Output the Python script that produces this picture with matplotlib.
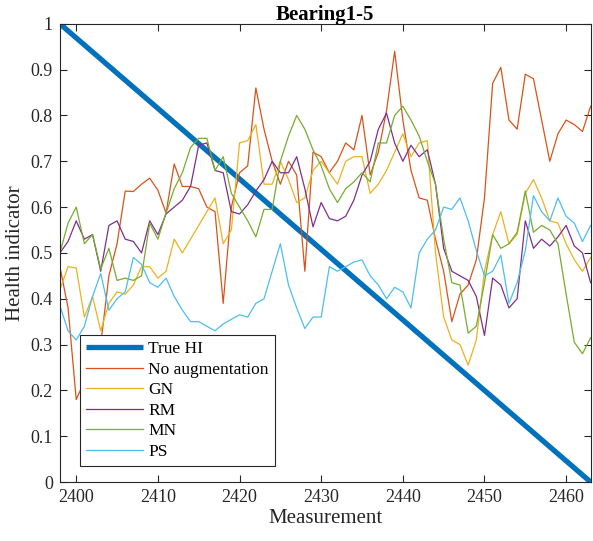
import numpy as np
import matplotlib
matplotlib.use("Agg")
import matplotlib.pyplot as plt

plt.rcParams['font.family'] = ['Liberation Serif', 'DejaVu Serif']
plt.rcParams['mathtext.fontset'] = 'stix'

## ---------------------------------- dados ----------------------------------
measurement = np.arange(2398, 2464)

true_hi_x = [2398, 2463]
true_hi = [1.0, 0.0]

no_aug = [0.47, 0.38, 0.18, 0.22, 0.27, 0.30, 0.45, 0.52, 0.635, 0.634,
          0.65, 0.663, 0.637, 0.587, 0.694, 0.645, 0.645, 0.64, 0.60, 0.59,
          0.39, 0.60, 0.675, 0.69, 0.86, 0.77, 0.70, 0.65, 0.70, 0.67,
          0.46, 0.72, 0.71, 0.675, 0.70, 0.74, 0.725, 0.80, 0.67, 0.72,
          0.81, 0.94, 0.79, 0.68, 0.62, 0.615, 0.53, 0.46, 0.35, 0.41,
          0.43, 0.485, 0.62, 0.87, 0.905, 0.79, 0.77, 0.89, 0.88, 0.79,
          0.70, 0.76, 0.79, 0.78, 0.765, 0.82]

gn = [0.42, 0.47, 0.467, 0.36, 0.405, 0.33, 0.39, 0.415, 0.41, 0.43,
      0.47, 0.47, 0.445, 0.46, 0.53, 0.50, 0.53, 0.56, 0.59, 0.62,
      0.52, 0.55, 0.74, 0.745, 0.78, 0.65, 0.65, 0.70, 0.66, 0.61,
      0.62, 0.68, 0.70, 0.675, 0.65, 0.70, 0.71, 0.71, 0.63, 0.65,
      0.68, 0.72, 0.76, 0.71, 0.74, 0.745, 0.50, 0.36, 0.31, 0.30,
      0.255, 0.31, 0.46, 0.54, 0.59, 0.52, 0.54, 0.63, 0.66, 0.62,
      0.57, 0.565, 0.52, 0.485, 0.46, 0.49]

rm = [0.50, 0.525, 0.57, 0.53, 0.54, 0.46, 0.56, 0.57, 0.53, 0.525,
      0.50, 0.57, 0.54, 0.585, 0.60, 0.615, 0.645, 0.735, 0.74, 0.68,
      0.675, 0.59, 0.585, 0.605, 0.635, 0.66, 0.70, 0.675, 0.675, 0.71,
      0.64, 0.557, 0.61, 0.575, 0.57, 0.58, 0.615, 0.67, 0.70, 0.77,
      0.805, 0.74, 0.70, 0.735, 0.71, 0.725, 0.65, 0.51, 0.46, 0.45,
      0.44, 0.405, 0.32, 0.445, 0.43, 0.38, 0.40, 0.57, 0.51, 0.53,
      0.515, 0.535, 0.56, 0.515, 0.50, 0.435]

mn = [0.50, 0.565, 0.60, 0.52, 0.54, 0.465, 0.51, 0.44, 0.445, 0.44,
      0.45, 0.565, 0.53, 0.587, 0.64, 0.675, 0.73, 0.75, 0.75, 0.68,
      0.71, 0.63, 0.60, 0.57, 0.535, 0.595, 0.595, 0.70, 0.755, 0.80,
      0.77, 0.725, 0.69, 0.64, 0.61, 0.64, 0.655, 0.675, 0.655, 0.74,
      0.74, 0.80, 0.82, 0.79, 0.755, 0.70, 0.65, 0.53, 0.435, 0.43,
      0.325, 0.34, 0.435, 0.54, 0.51, 0.52, 0.545, 0.635, 0.545, 0.56,
      0.55, 0.52, 0.41, 0.305, 0.28, 0.315]

ps = [0.385, 0.33, 0.31, 0.34, 0.405, 0.455, 0.375, 0.40, 0.415, 0.49,
      0.475, 0.435, 0.425, 0.445, 0.405, 0.375, 0.35, 0.35, 0.34, 0.33,
      0.345, 0.355, 0.365, 0.36, 0.39, 0.40, 0.46, 0.52, 0.43, 0.38,
      0.335, 0.36, 0.36, 0.47, 0.46, 0.47, 0.48, 0.485, 0.45, 0.43,
      0.40, 0.425, 0.415, 0.38, 0.50, 0.53, 0.55, 0.60, 0.595, 0.62,
      0.57, 0.505, 0.45, 0.46, 0.495, 0.39, 0.435, 0.505, 0.625, 0.59,
      0.57, 0.62, 0.58, 0.565, 0.525, 0.56]

## ---------------------------------- figura ----------------------------------
cor_eixo = '#262626'
fig = plt.figure(figsize=(5.93, 5.41), dpi=100)
ax = fig.add_axes([0.101, 0.109, 0.895, 0.847])

ax.plot(true_hi_x, true_hi, color='#0072BD', lw=3.8, label='True HI', solid_capstyle='butt')
ax.plot(measurement, no_aug, color='#D95319', lw=0.9, label='No augmentation')
ax.plot(measurement, gn, color='#EDB120', lw=0.9, label='GN')
ax.plot(measurement, rm, color='#7E2F8E', lw=0.9, label='RM')
ax.plot(measurement, mn, color='#77AC30', lw=0.9, label='MN')
ax.plot(measurement, ps, color='#4DBEEE', lw=0.9, label='PS')

ax.set_xlim(2398, 2463)
ax.set_ylim(0, 1)
ax.set_xticks(np.arange(2400, 2461, 10))
ax.set_yticks(np.arange(0, 1.01, 0.1))
ax.set_yticklabels(['0', '0.1', '0.2', '0.3', '0.4', '0.5', '0.6', '0.7', '0.8', '0.9', '1'])
ax.tick_params(direction='in', length=5, width=0.8, top=True, right=True,
               labelsize=13, colors=cor_eixo, pad=5)
for s in ax.spines.values():
    s.set_color(cor_eixo)
    s.set_linewidth(0.8)

ax.set_xlabel('Measurement', fontsize=15, color=cor_eixo, labelpad=2)
ax.set_ylabel('Health indicator', fontsize=15, color=cor_eixo, labelpad=4)
ax.set_title('Bearing1-5', fontsize=15, fontweight='bold', pad=3)

leg = ax.legend(loc='lower left', bbox_to_anchor=(0.037, 0.035), fontsize=12.5,
                handlelength=3.3, labelspacing=0.25, borderpad=0.35,
                handletextpad=0.3, fancybox=False, framealpha=1.0,
                edgecolor=cor_eixo, borderaxespad=0)
leg.get_frame().set_linewidth(0.8)

fig.savefig('out.png', dpi=100)
